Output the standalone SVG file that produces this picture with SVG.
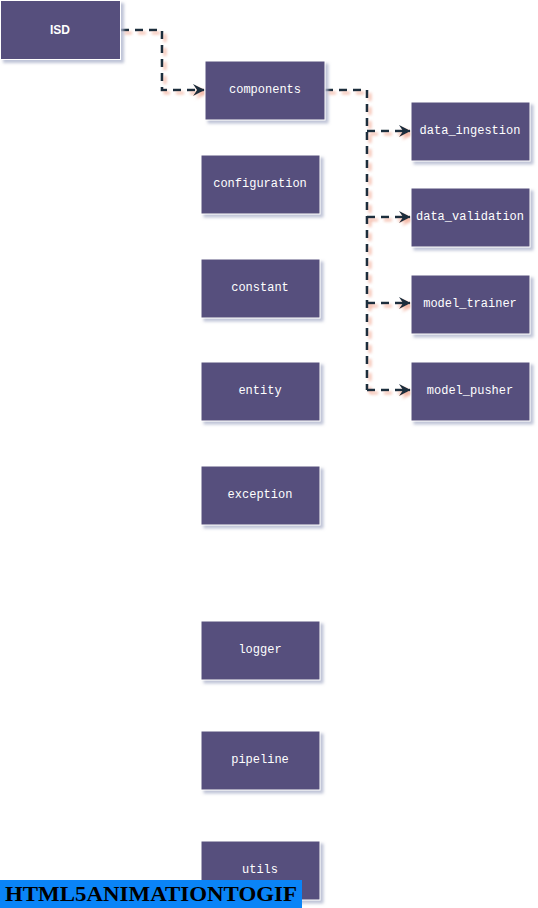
<svg xmlns="http://www.w3.org/2000/svg" width="538" height="908" viewBox="0 0 538 908">
  <style>
    .box { fill: #57507d; stroke: #ffffff; stroke-width: 1; filter: url(#boxShadow); }
    .lbl { fill: #ffffff; font-family: "Liberation Mono", "DejaVu Sans Mono", monospace; font-size: 12px; text-anchor: middle; dominant-baseline: central; }
    .root { font-family: "Liberation Sans", Arial, sans-serif; font-size: 12px; font-weight: bold; }
    .wire { fill: none; stroke: #1f2f3d; stroke-width: 2.6; stroke-dasharray: 8 6; filter: url(#wireShadow); }
  </style>
  <defs>
    <filter id="boxShadow" x="-10%" y="-10%" width="130%" height="140%">
      <feDropShadow dx="3" dy="3" stdDeviation="1.5" flood-color="#aeb4cc" flood-opacity="0.8"/>
    </filter>
    <filter id="wireShadow" filterUnits="userSpaceOnUse" x="0" y="0" width="538" height="908">
      <feDropShadow dx="3" dy="3" stdDeviation="1.6" flood-color="#f0a088" flood-opacity="0.75"/>
    </filter>
    <marker id="arrow" markerWidth="13" markerHeight="12" refX="11" refY="6" orient="auto" markerUnits="userSpaceOnUse">
      <path d="M0,0 L12,6 L0,12 L4,6 Z" fill="#1f2f3d"/>
    </marker>
  </defs>

  <rect width="538" height="908" fill="#ffffff"/>

  <!-- connectors -->
  <g id="connectors">
    <path class="wire" d="M121,30 H162 V90 H204" marker-end="url(#arrow)"/>
    <path class="wire" d="M325,90 H367 V390"/>
    <path class="wire" d="M367,131 H410" marker-end="url(#arrow)"/>
    <path class="wire" d="M367,217 H410" marker-end="url(#arrow)"/>
    <path class="wire" d="M367,303 H410" marker-end="url(#arrow)"/>
    <path class="wire" d="M367,390 H410" marker-end="url(#arrow)"/>
  </g>

  <!-- nodes -->
  <g id="isd"><rect class="box" x="0.5" y="0.5" width="120" height="59"/><text class="lbl root" x="60" y="30">ISD</text></g>
  <g id="components"><rect class="box" x="205" y="61" width="120" height="59"/><text class="lbl" x="265" y="90">components</text></g>
  <g id="configuration"><rect class="box" x="201" y="155" width="119" height="59"/><text class="lbl" x="260" y="184">configuration</text></g>
  <g id="constant"><rect class="box" x="201" y="259" width="119" height="59"/><text class="lbl" x="260" y="288">constant</text></g>
  <g id="entity"><rect class="box" x="201" y="362" width="119" height="59"/><text class="lbl" x="260" y="391">entity</text></g>
  <g id="exception"><rect class="box" x="201" y="466" width="119" height="59"/><text class="lbl" x="260" y="495">exception</text></g>
  <g id="logger"><rect class="box" x="201" y="621" width="119" height="59"/><text class="lbl" x="260" y="650">logger</text></g>
  <g id="pipeline"><rect class="box" x="201" y="731" width="119" height="59"/><text class="lbl" x="260" y="760">pipeline</text></g>
  <g id="utils"><rect class="box" x="201" y="841" width="119" height="59"/><text class="lbl" x="260" y="870">utils</text></g>
  <g id="data_ingestion"><rect class="box" x="411" y="102" width="119" height="59"/><text class="lbl" x="470" y="131">data_ingestion</text></g>
  <g id="data_validation"><rect class="box" x="411" y="188" width="119" height="59"/><text class="lbl" x="470" y="217">data_validation</text></g>
  <g id="model_trainer"><rect class="box" x="411" y="275" width="119" height="59"/><text class="lbl" x="470" y="304">model_trainer</text></g>
  <g id="model_pusher"><rect class="box" x="411" y="362" width="119" height="59"/><text class="lbl" x="470" y="391">model_pusher</text></g>

  <!-- badge -->
  <g id="badge">
    <rect x="0" y="880" width="302" height="28" fill="#0a84f7"/>
    <text x="5" y="901" textLength="292" lengthAdjust="spacingAndGlyphs" font-family="'Liberation Serif', 'Times New Roman', serif" font-size="22" font-weight="bold" fill="#000000">HTML5ANIMATIONTOGIF</text>
  </g>
</svg>
